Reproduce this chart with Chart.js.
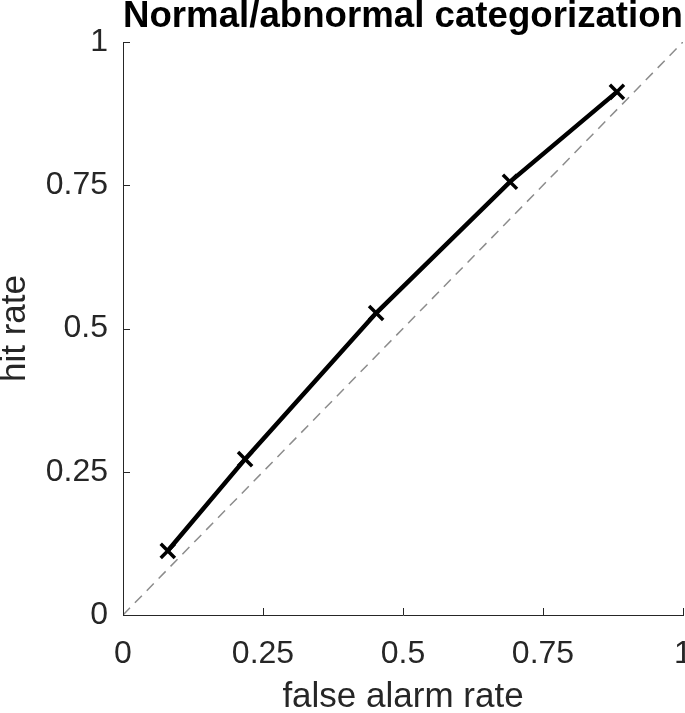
<!DOCTYPE html>
<html>
<head>
<meta charset="utf-8">
<script src="https://cdn.jsdelivr.net/npm/chart.js@4.4.1/dist/chart.umd.min.js"></script>
<style>
  html, body { margin: 0; padding: 0; background: #fff; }
  #wrap { width: 685px; height: 713px; }
</style>
</head>
<body>
<div id="wrap"><canvas id="rocChart" width="685" height="713"></canvas></div>
<script>
// ROC points
const falseAlarmRate = [0.080, 0.218, 0.452, 0.691, 0.882];
const hitRate = [0.112, 0.272, 0.527, 0.756, 0.913];
// chance diagonal
const chanceX = [0, 1];
const chanceY = [0, 1];
const tickValues = [0, 0.25, 0.5, 0.75, 1];

const axisColor = '#262626';
const fontFamily = '"Liberation Sans", Arial, Helvetica, sans-serif';

// MATLAB style ticks pointing into the plot
const inwardTicks = {
  id: 'inwardTicks',
  afterDatasetsDraw(chart) {
    const ctx = chart.ctx;
    const x = chart.scales.x;
    const y = chart.scales.y;
    const area = chart.chartArea;
    const len = 7;
    ctx.save();
    ctx.strokeStyle = axisColor;
    ctx.lineWidth = 1;
    ctx.beginPath();
    tickValues.forEach(v => {
      const px = Math.round(x.getPixelForValue(v)) + 0.5;
      ctx.moveTo(px, area.bottom);
      ctx.lineTo(px, area.bottom - len);
      const py = Math.round(y.getPixelForValue(v)) + 0.5;
      ctx.moveTo(area.left, py);
      ctx.lineTo(area.left + len, py);
    });
    ctx.stroke();
    ctx.restore();
  }
};

const ctx = document.getElementById('rocChart').getContext('2d');
new Chart(ctx, {
  type: 'line',
  data: {
    datasets: [{
      label: 'chance',
      data: chanceX.map((v, i) => ({ x: v, y: chanceY[i] })),
      borderColor: '#8c8c8c',
      borderWidth: 1.5,
      borderDash: [10, 7],
      pointRadius: 0,
      order: 2
    },
    {
      label: 'ROC',
      data: falseAlarmRate.map((v, i) => ({ x: v, y: hitRate[i] })),
      borderColor: '#000',
      borderWidth: 4.5,
      pointStyle: 'crossRot',
      pointRadius: 10,
      pointBorderWidth: 3.5,
      pointBorderColor: '#000',
      pointBackgroundColor: '#000',
      order: 1
    }]
  },
  options: {
    responsive: false,
    animation: false,
    layout: { autoPadding: false, padding: { top: 0, right: 2, bottom: 0, left: 0 } },
    plugins: {
      legend: { display: false },
      tooltip: { enabled: false },
      title: {
        display: true,
        fullSize: false,
        text: 'Normal/abnormal categorization',
        color: '#000',
        font: { family: fontFamily, size: 37, weight: 'bold', lineHeight: 0.9 },
        padding: { top: 0, bottom: 8.7 }
      }
    },
    scales: {
      x: {
        type: 'linear',
        min: 0,
        max: 1,
        afterBuildTicks: s => { s.ticks = tickValues.map(v => ({ value: v })); },
        afterFit: s => { s.height = 98; s.paddingLeft = 0; s.paddingRight = 0; },
        grid: { display: false, drawTicks: false },
        border: { display: true, color: axisColor, width: 1 },
        ticks: {
          color: '#262626',
          font: { family: fontFamily, size: 32 },
          padding: 20,
          maxRotation: 0,
          callback: v => String(v)
        },
        title: {
          display: true,
          text: 'false alarm rate',
          color: '#262626',
          font: { family: fontFamily, size: 35, lineHeight: 1 },
          padding: { top: 0, bottom: -2 }
        }
      },
      y: {
        type: 'linear',
        min: 0,
        max: 1,
        afterBuildTicks: s => { s.ticks = tickValues.map(v => ({ value: v })); },
        afterFit: s => { s.width = 123; s.paddingTop = 0; s.paddingBottom = 0; },
        grid: { display: false, drawTicks: false },
        border: { display: true, color: axisColor, width: 1 },
        ticks: {
          color: '#262626',
          font: { family: fontFamily, size: 32 },
          padding: 15,
          callback: v => String(v)
        },
        title: {
          display: true,
          text: 'hit rate',
          color: '#262626',
          font: { family: fontFamily, size: 35, lineHeight: 1 },
          padding: { top: -2, bottom: 0 }
        }
      }
    }
  },
  plugins: [inwardTicks]
});
</script>
</body>
</html>
